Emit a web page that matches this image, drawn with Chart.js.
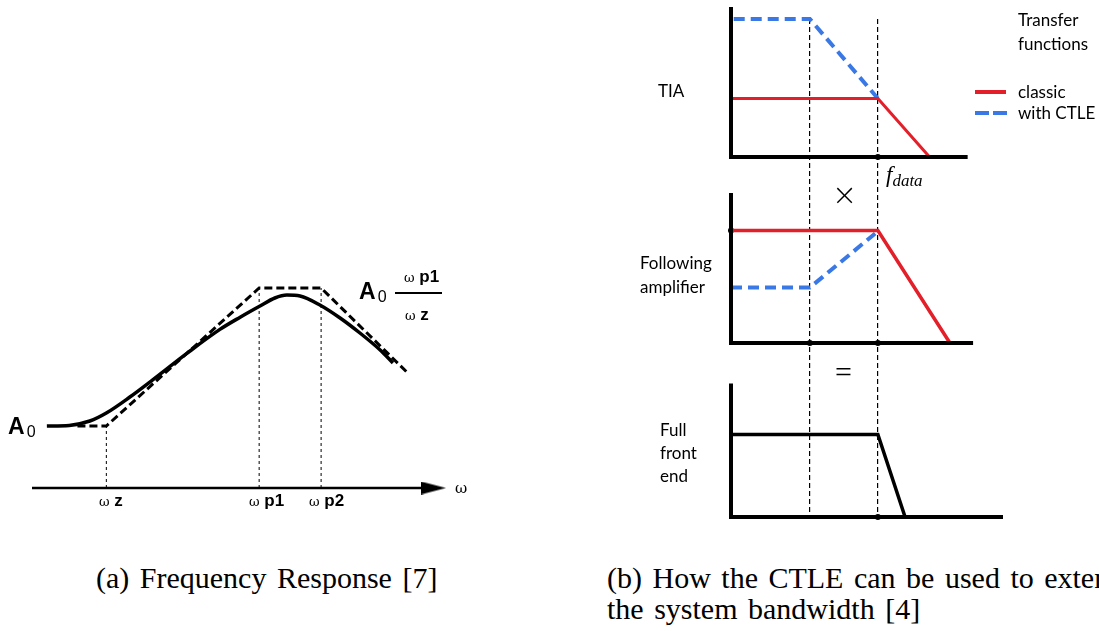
<!DOCTYPE html>
<html>
<head>
<meta charset="utf-8">
<script src="https://cdn.jsdelivr.net/npm/chart.js@4"></script>
<style>
body { margin: 0; width: 1099px; height: 631px; overflow: hidden; background: #fff; position: relative; }
canvas { position: absolute; }
.t { position: absolute; white-space: nowrap; line-height: 1; color: #000; }
.bold { font-family: "Liberation Sans", Arial, sans-serif; font-weight: bold; }
.om { font-family: "DejaVu Serif", serif; font-size: 13px; font-weight: normal; }
.cal { font-family: Lato, "Open Sans", sans-serif; font-size: 17px; }
.cap { font-family: "Liberation Serif", serif; font-size: 30px; word-spacing: 3px; }
</style>
</head>
<body>
<canvas id="freq-chart" width="480" height="540" style="left:0;top:0"></canvas>
<canvas id="ctle-chart" width="479" height="540" style="left:620px;top:0"></canvas>

<!-- (a) labels -->
<div class="t bold" style="left:8px;top:415px;font-size:23px">A<span style="font-size:16px;font-weight:normal;position:relative;top:3px;margin-left:2px">0</span></div>
<div class="t om" style="left:455px;top:481px;font-size:15px">ω</div>
<div class="t bold" style="left:99px;top:492px;font-size:17px"><span class="om">ω</span> z</div>
<div class="t bold" style="left:249px;top:492px;font-size:17px"><span class="om">ω</span> p1</div>
<div class="t bold" style="left:309px;top:492px;font-size:17px"><span class="om">ω</span> p2</div>
<div class="t bold" style="left:359px;top:280px;font-size:23px">A<span style="font-size:16px;font-weight:normal;position:relative;top:3px;margin-left:2px">0</span></div>
<div class="t bold" style="left:404px;top:268px;font-size:17px"><span class="om">ω</span> p1</div>
<div style="position:absolute;left:395px;top:292px;width:47px;height:2px;background:#000"></div>
<div class="t bold" style="left:405px;top:306px;font-size:17px"><span class="om">ω</span> z</div>

<!-- (b) labels -->
<div class="t cal" style="left:1018px;top:11px">Transfer</div>
<div class="t cal" style="left:1018px;top:35px">functions</div>
<div style="position:absolute;left:975px;top:90px;width:31px;height:4px;background:#e3202a"></div>
<div style="position:absolute;left:975px;top:111px;width:32px;height:4px;background:repeating-linear-gradient(90deg,#3a78e6 0 14px,transparent 14px 18px)"></div>
<div class="t cal" style="left:1018px;top:83px">classic</div>
<div class="t cal" style="left:1018px;top:104px">with CTLE</div>
<div class="t cal" style="left:658px;top:82px">TIA</div>
<div class="t cal" style="left:640px;top:254px">Following</div>
<div class="t cal" style="left:640px;top:278px">amplifier</div>
<div class="t cal" style="left:660px;top:421px">Full</div>
<div class="t cal" style="left:660px;top:444px">front</div>
<div class="t cal" style="left:660px;top:467px">end</div>
<div class="t" style="left:886px;top:163px;font-family:'Liberation Serif',serif;font-style:italic;font-size:23px">f<span style="font-size:17px;position:relative;top:4px">data</span></div>
<div class="t" style="left:832px;top:180px;font-family:'DejaVu Sans',sans-serif;font-size:30px;font-weight:200">×</div>
<div class="t" style="left:835px;top:357px;font-family:'Liberation Serif',serif;font-size:30px">=</div>

<!-- captions -->
<div class="t cap" style="left:96px;top:563px">(a) Frequency Response [7]</div>
<div class="t cap" style="left:607px;top:563px">(b) How the CTLE can be used to extend</div>
<div class="t cap" style="left:607px;top:594px">the system bandwidth [4]</div>

<script>
// (a) frequency response: x = log-frequency units, y = gain units
const omegaZ = 18;
const omegaP1 = 55;
const omegaP2 = 70;
const gainA0 = 31;
const gainPeak = 100;
const responseX = [3.6, 9, 14, 18, 23.7, 29.3, 37.5, 45.5, 50.4, 55.2, 58.8, 61.7, 64.9, 69.7, 74.6, 79.4, 84.3, 87.4];
const responseY = [31, 31.3, 33.5, 37.5, 45.5, 54.2, 67.3, 79.3, 85.4, 91, 95, 96.5, 96, 91.5, 85, 77.5, 69, 62.5];
const asymptoteX = [11, omegaZ, omegaP1, omegaP2, 91];
const asymptoteY = [gainA0, gainA0, gainPeak, gainPeak, 57.5];

// (b) CTLE transfer functions: x = frequency units, y = gain units per panel
const fZero = 29;
const fData = 54;
const tiaClassicX = [0, fData, 73];
const tiaClassicY = [39, 39, 0];
const tiaCtleX = [1, fZero, fData];
const tiaCtleY = [92, 92, 39];
const ampClassicX = [0, fData, 80.5];
const ampClassicY = [75, 75, 0];
const ampCtleX = [0, fZero, 53];
const ampCtleY = [37, 37, 73];
const fullX = [0, fData, 64];
const fullY = [55, 55, 0];

const RED = '#e3202a';
const BLUE = '#3a78e6';

function pts(xs, ys) {
    return xs.map((x, i) => ({ x: x, y: ys[i] }));
}

function line(xs, ys, color, width, dash, axis) {
    return {
        data: pts(xs, ys),
        borderColor: color,
        borderWidth: width,
        borderDash: dash || [],
        pointRadius: 0,
        tension: 0,
        fill: false,
        clip: false,
        yAxisID: axis || 'y'
    };
}

function dots(xs, ys, axis) {
    return {
        data: pts(xs, ys),
        showLine: false,
        pointRadius: 3,
        pointBackgroundColor: '#000',
        pointBorderWidth: 0,
        clip: false,
        yAxisID: axis
    };
}

function hidden(extra) {
    return Object.assign({
        type: 'linear',
        ticks: { display: false },
        grid: { display: false },
        border: { display: false }
    }, extra);
}

// arrow head for the frequency axis
const arrow = document.createElement('canvas');
arrow.width = 25;
arrow.height = 13;
const actx = arrow.getContext('2d');
actx.beginPath();
actx.moveTo(0, 0);
actx.lineTo(25, 6.5);
actx.lineTo(0, 13);
actx.closePath();
actx.fill();

const curve = line(responseX, responseY, '#000', 3.5);
curve.cubicInterpolationMode = 'monotone';

new Chart(document.querySelector('#freq-chart'), {
    type: 'line',
    data: {
        datasets: [
            line([0, 95], [0, 0], '#000', 2.5),
            { data: [{ x: 97.2, y: 0 }], showLine: false, pointStyle: arrow, pointRadius: 6, clip: false },
            line([omegaZ, omegaZ], [0, gainA0], '#000', 1, [3, 3]),
            line([omegaP1, omegaP1], [0, gainPeak], '#000', 1, [3, 3]),
            line([omegaP2, omegaP2], [0, gainPeak], '#000', 1, [3, 3]),
            line(asymptoteX, asymptoteY, '#000', 3, [8, 4]),
            curve
        ]
    },
    options: {
        responsive: false,
        animation: false,
        events: [],
        layout: { padding: { left: 32, right: 35, top: 228, bottom: 12 } },
        plugins: { legend: { display: false }, tooltip: { enabled: false } },
        scales: {
            x: hidden({ display: false, min: 0, max: 100 }),
            y: hidden({ display: false, min: -20, max: 130 })
        }
    }
});

new Chart(document.querySelector('#ctle-chart'), {
    type: 'line',
    data: {
        datasets: [
            line([0, 0, 87], [100, 0, 0], '#000', 4, [], 'yT'),
            line(tiaClassicX, tiaClassicY, RED, 3, [], 'yT'),
            line(tiaCtleX, tiaCtleY, BLUE, 4, [11, 6], 'yT'),
            dots([fData], [0], 'yT'),
            line([0, 0, 89], [100, 0, 0], '#000', 4, [], 'yA'),
            line(ampClassicX, ampClassicY, RED, 3.5, [], 'yA'),
            line(ampCtleX, ampCtleY, BLUE, 4, [11, 6], 'yA'),
            dots([0, fZero, fData], [75, 0, 0], 'yA'),
            line([0, 0, 100], [89, 0, 0], '#000', 4, [], 'yF'),
            line(fullX, fullY, '#000', 3.5, [], 'yF'),
            dots([fData], [0], 'yF')
        ]
    },
    options: {
        responsive: false,
        animation: false,
        events: [],
        layout: { padding: { left: 111, right: 96, top: 19, bottom: 23 } },
        plugins: { legend: { display: false }, tooltip: { enabled: false } },
        scales: {
            x: {
                type: 'linear',
                min: 0,
                max: 100,
                ticks: { display: false },
                grid: { display: true, color: '#000', lineWidth: 1.2, drawTicks: false },
                border: { display: false, dash: [5, 3] },
                afterBuildTicks: s => { s.ticks = [{ value: fZero }, { value: fData }]; },
                afterFit: s => { s.height = 0; }
            },
            yF: hidden({ position: 'left', stack: 'b', stackWeight: 157.5, weight: 1, min: 0, max: 105, afterFit: s => { s.width = 0; } }),
            yA: hidden({ position: 'left', stack: 'b', stackWeight: 184.5, weight: 2, min: -11, max: 112, afterFit: s => { s.width = 0; } }),
            yT: hidden({ position: 'left', stack: 'b', stackWeight: 156, weight: 3, min: -12, max: 92, afterFit: s => { s.width = 0; } })
        }
    }
});
</script>
</body>
</html>
